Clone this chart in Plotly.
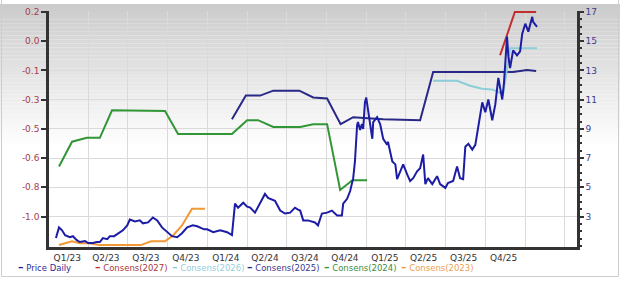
import plotly.graph_objects as go

# ---------------- data ----------------
price_dates = [
    "2023-01-17", "2023-01-24", "2023-01-31", "2023-02-07", "2023-02-18", "2023-02-25",
    "2023-03-06", "2023-03-13", "2023-03-25", "2023-04-01", "2023-04-12", "2023-04-21",
    "2023-04-28", "2023-05-05", "2023-05-15", "2023-05-21", "2023-05-31", "2023-06-09",
    "2023-06-20", "2023-06-30", "2023-07-06", "2023-07-18", "2023-07-29", "2023-08-05",
    "2023-08-17", "2023-08-28", "2023-09-07", "2023-09-18", "2023-09-30", "2023-10-11",
    "2023-10-23", "2023-11-03", "2023-11-15", "2023-11-28", "2023-12-08", "2023-12-15",
    "2023-12-24", "2023-12-31", "2024-01-14", "2024-01-30", "2024-02-15", "2024-02-26",
    "2024-03-04", "2024-03-11", "2024-03-23", "2024-04-01", "2024-04-08", "2024-04-19",
    "2024-05-01", "2024-05-12", "2024-05-19", "2024-05-24", "2024-06-04", "2024-06-16",
    "2024-06-27", "2024-07-09", "2024-07-20", "2024-07-27", "2024-08-01", "2024-08-08",
    "2024-08-19", "2024-09-04", "2024-09-11", "2024-09-20", "2024-10-02", "2024-10-13",
    "2024-10-25", "2024-11-05", "2024-11-08", "2024-11-17", "2024-11-24", "2024-12-01",
    "2024-12-05", "2024-12-10", "2024-12-12", "2024-12-17", "2024-12-21", "2024-12-24",
    "2024-12-28", "2024-12-31", "2025-01-04", "2025-01-09", "2025-01-14", "2025-01-16",
    "2025-01-25", "2025-02-01", "2025-02-08", "2025-02-17", "2025-02-19", "2025-03-01",
    "2025-03-08", "2025-03-12", "2025-03-19", "2025-03-26", "2025-04-04", "2025-04-11",
    "2025-04-18", "2025-04-27", "2025-05-04", "2025-05-11", "2025-05-16", "2025-05-22",
    "2025-06-01", "2025-06-12", "2025-06-19", "2025-07-01", "2025-07-07", "2025-07-19",
    "2025-07-28", "2025-08-04", "2025-08-11", "2025-08-16", "2025-08-23", "2025-09-01",
    "2025-09-08", "2025-09-12", "2025-09-15", "2025-09-24", "2025-10-01", "2025-10-08",
    "2025-10-17", "2025-10-24", "2025-10-31", "2025-11-09", "2025-11-13", "2025-11-20",
    "2025-11-23", "2025-11-27", "2025-12-04", "2025-12-13", "2025-12-20", "2025-12-25",
    "2026-01-01", "2026-01-08", "2026-01-17", "2026-01-19", "2026-01-28",
]
price_values = [
    1.53, 2.26, 2.06, 1.73, 1.59, 1.66,
    1.39, 1.26, 1.33, 1.19, 1.19, 1.26,
    1.26, 1.53, 1.46, 1.66, 1.66, 1.86,
    2.06, 2.40, 2.80, 2.67, 2.74, 2.54,
    2.60, 2.94, 2.74, 2.26, 1.93, 1.66,
    1.59, 1.86, 2.26, 2.40, 2.34, 2.26,
    2.13, 2.13, 1.93, 2.06, 1.93, 1.73,
    3.88, 3.61, 3.95, 3.68, 3.61, 3.27,
    3.95, 4.55, 4.28, 4.22, 4.08, 3.41,
    3.21, 3.27, 3.61, 3.48, 3.41, 2.74,
    2.74, 2.60, 2.40, 3.21, 3.27, 3.41,
    3.08, 3.08, 3.88, 4.22, 4.75, 5.63,
    6.77, 9.26, 9.46, 8.92, 9.33, 8.99,
    10.81, 11.14, 10.34, 8.99, 8.32, 9.46,
    9.80, 9.33, 8.32, 7.91, 8.12, 6.77,
    6.57, 5.56, 6.10, 6.57, 5.90, 5.43,
    5.63, 6.10, 6.30, 7.24, 5.22, 5.63,
    5.22, 5.76, 5.22, 4.96, 5.29, 5.43,
    6.43, 5.63, 5.56, 7.78, 7.98, 7.58,
    7.91, 8.59, 9.26, 10.81, 10.13, 11.01,
    9.59, 10.67, 12.49, 11.01, 12.15, 15.31,
    13.97, 13.16, 14.37, 14.03, 14.30, 15.51,
    16.19, 15.65, 16.66, 16.32, 15.98,
]

cons2027_dates = ["2025-11-04", "2025-11-20", "2025-12-08", "2026-01-26"]
cons2027_values = [-0.047, 0.065, 0.199, 0.199]

cons2026_dates = ["2025-06-03", "2025-07-28", "2025-08-27", "2025-09-24", "2025-10-19",
                  "2025-11-11", "2025-11-27", "2026-01-28"]
cons2026_values = [-0.193, -0.193, -0.221, -0.238, -0.243, -0.271, -0.008, -0.008]

cons2025_dates = ["2024-02-26", "2024-03-29", "2024-05-01", "2024-05-31", "2024-07-30",
                  "2024-08-31", "2024-10-02", "2024-11-02", "2024-12-01", "2025-02-08",
                  "2025-05-04", "2025-06-03", "2025-12-04", "2026-01-05", "2026-01-26"]
cons2025_values = [-0.412, -0.277, -0.277, -0.249, -0.249,
                   -0.288, -0.294, -0.440, -0.400, -0.412,
                   -0.417, -0.143, -0.143, -0.131, -0.137]

cons2024_dates = ["2023-01-24", "2023-02-23", "2023-03-29", "2023-04-28", "2023-05-26",
                  "2023-07-23", "2023-09-25", "2023-10-25", "2024-02-26", "2024-04-01",
                  "2024-04-26", "2024-05-31", "2024-08-01", "2024-08-31", "2024-10-02",
                  "2024-11-01", "2024-11-29", "2025-01-02"]
cons2024_values = [-0.681, -0.540, -0.518, -0.518, -0.361,
                   -0.361, -0.365, -0.496, -0.496, -0.417,
                   -0.417, -0.456, -0.456, -0.440, -0.440,
                   -0.815, -0.759, -0.759]

cons2023_dates = ["2023-01-24", "2023-02-23", "2023-03-13", "2023-04-01", "2023-04-28",
                  "2023-07-31", "2023-08-24", "2023-09-25", "2023-10-14", "2023-11-03",
                  "2023-11-26", "2023-12-26"]
cons2023_values = [-1.129, -1.107, -1.118, -1.118, -1.129,
                   -1.129, -1.107, -1.107, -1.073, -1.017,
                   -0.922, -0.922]

left_tick_values = [0.2, 0.0333, -0.1333, -0.3, -0.4667, -0.6333, -0.8, -0.9667]
left_tick_labels = ["0.2", "0.0", "-0.1", "-0.3", "-0.5", "-0.6", "-0.8", "-1.0"]
right_tick_values = [3, 5, 7, 9, 11, 13, 15, 17]
right_tick_labels = ["3", "5", "7", "9", "11", "13", "15", "17"]
x_tick_dates = ["2023-02-12", "2023-05-12", "2023-08-12", "2023-11-12",
                "2024-02-12", "2024-05-12", "2024-08-12", "2024-11-12",
                "2025-02-12", "2025-05-12", "2025-08-12", "2025-11-12"]
x_tick_labels = ["Q1/23", "Q2/23", "Q3/23", "Q4/23", "Q1/24", "Q2/24",
                 "Q3/24", "Q4/24", "Q1/25", "Q2/25", "Q3/25", "Q4/25"]

legend_names = ["Price Daily", "Consens(2027)", "Consens(2026)",
                "Consens(2025)", "Consens(2024)", "Consens(2023)"]

# ---------------- styling ----------------
C_PRICE = "rgb(28,28,165)"
C_2027 = "rgb(195,45,45)"
C_2026 = "rgb(140,205,218)"
C_2025 = "rgb(40,40,135)"
C_2024 = "rgb(50,150,55)"
C_2023 = "rgb(242,152,52)"
legend_colors = [C_PRICE, C_2027, C_2026, C_2025, C_2024, C_2023]
legend_text_colors = ["rgb(45,45,150)", "rgb(170,55,60)", "rgb(150,205,218)",
                      "rgb(55,55,140)", "rgb(60,140,60)", "rgb(235,160,80)"]

W, H = 620, 281
ML, MR, MT, MB = 49, 43, 7, 34
PW, PH = W - ML - MR, H - MT - MB

FONT = "DejaVu Sans, Verdana, sans-serif"

fig = go.Figure()

for d, v, c, n in [
    (cons2023_dates, cons2023_values, C_2023, "Consens(2023)"),
    (cons2024_dates, cons2024_values, C_2024, "Consens(2024)"),
    (cons2025_dates, cons2025_values, C_2025, "Consens(2025)"),
    (cons2026_dates, cons2026_values, C_2026, "Consens(2026)"),
    (cons2027_dates, cons2027_values, C_2027, "Consens(2027)"),
]:
    fig.add_trace(go.Scatter(x=d, y=v, mode="lines", name=n,
                             line=dict(color=c, width=2), yaxis="y"))

fig.add_trace(go.Scatter(x=price_dates, y=price_values, mode="lines", name="Price Daily",
                         line=dict(color=C_PRICE, width=2), yaxis="y2"))

# background gradient bands (paper coordinates)
shapes = []
band = 4
for top in range(0, 150, band):
    frac = min(1.0, (top + band / 2) / 145.0)
    g = int(round(203 + (255 - 203) * frac))
    y0 = (MT + PH - (top + band)) / PH
    y1 = (MT + PH - top) / PH
    shapes.append(dict(type="rect", xref="paper", yref="paper",
                       x0=-ML / PW, x1=(W - ML) / PW, y0=y0, y1=y1,
                       fillcolor=f"rgb({g},{g},{g})", line=dict(width=0), layer="below"))
# outer frame
shapes.append(dict(type="rect", xref="paper", yref="paper",
                   x0=(1.5 - ML) / PW, x1=(618.5 - ML) / PW,
                   y0=(MT + PH - 277) / PH, y1=(MT + PH + 5) / PH,
                   line=dict(color="rgb(205,205,205)", width=1), fillcolor="rgba(0,0,0,0)",
                   layer="below"))

# manual legend
legend_x = [17, 94, 171, 246, 323, 400]
annotations = []
for lx, name, col, tcol in zip(legend_x, legend_names, legend_colors, legend_text_colors):
    annotations.append(dict(
        xref="paper", yref="paper", x=(lx - ML) / PW, y=(MT + PH - 268) / PH,
        xanchor="left", yanchor="middle", showarrow=False,
        text=(f"<span style='color:{col};font-size:11px'><b>–</b></span>&nbsp;"
              f"<span style='color:{tcol}'>{name}</span>"),
        font=dict(family=FONT, size=8.5), borderpad=0))

fig.update_layout(
    width=W, height=H, autosize=False,
    margin=dict(l=ML, r=MR, t=MT, b=MB, pad=0),
    paper_bgcolor="white", plot_bgcolor="rgba(0,0,0,0)",
    showlegend=False,
    shapes=shapes, annotations=annotations,
    font=dict(family=FONT, size=9, color="#333"),
    xaxis=dict(
        type="date", range=["2023-01-01", "2026-04-30"],
        tickmode="array", tickvals=x_tick_dates, ticktext=x_tick_labels,
        ticks="", showgrid=False, zeroline=False,
        showline=True, linecolor="#333", linewidth=2.5,
        tickfont=dict(family=FONT, size=9, color="#333"),
        minor=dict(dtick="M3", tick0="2023-01-01", showgrid=True,
                   gridcolor="rgb(218,218,218)", gridwidth=1, ticks=""),
    ),
    yaxis=dict(
        range=[-1.14, 0.205], side="left",
        tickmode="array", tickvals=left_tick_values, ticktext=left_tick_labels,
        ticks="outside", ticklen=5, tickwidth=1.5, tickcolor="#333",
        showline=True, linecolor="#333", linewidth=2.5,
        showgrid=True, gridcolor="rgb(218,218,218)", gridwidth=1, zeroline=False,
        tickfont=dict(family=FONT, size=9, color="rgb(165,60,75)"),
    ),
    yaxis2=dict(
        range=[0.92, 17.06], side="right", overlaying="y",
        tickmode="array", tickvals=right_tick_values, ticktext=right_tick_labels,
        ticks="outside", ticklen=4, tickwidth=1.5, tickcolor="#333",
        showline=True, linecolor="#333", linewidth=2.5,
        showgrid=False, zeroline=False,
        tickfont=dict(family=FONT, size=9, color="rgb(60,60,140)"),
        minor=dict(dtick=0.5, ticks="outside", ticklen=2, tickcolor="#333"),
    ),
)

fig.write_html("out.html")
